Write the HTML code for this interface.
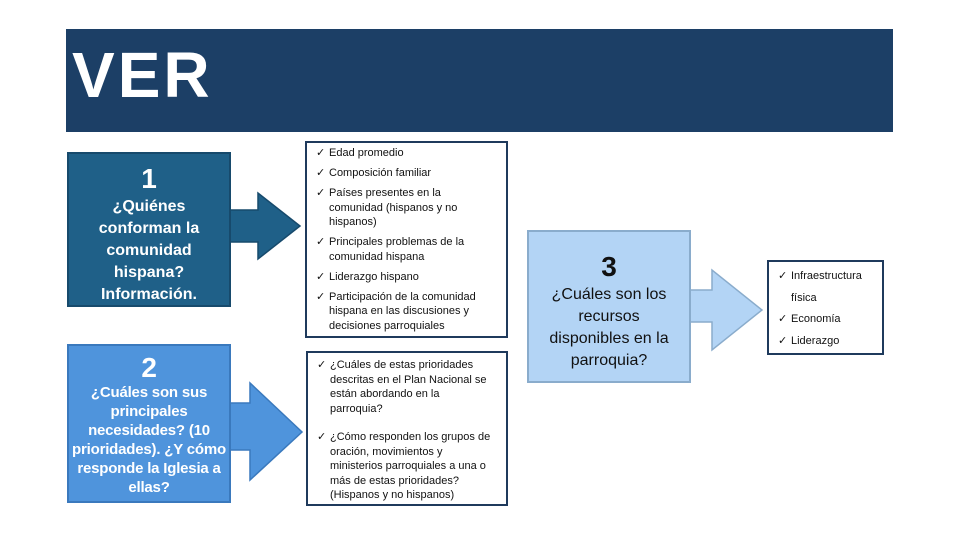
<!DOCTYPE html>
<html><head><meta charset="utf-8"><style>
body{margin:0;width:960px;height:540px;background:#fff;position:relative;overflow:hidden;font-family:"Liberation Sans",sans-serif}
.a{position:absolute}
.hdr{left:66px;top:29px;width:827px;height:103px;background:#1c3f66}
.ver{left:72px;top:38px;color:#fff;font-weight:bold;font-size:64px;letter-spacing:3px}
.box{position:absolute;box-sizing:border-box;text-align:center;font-weight:bold;font-size:16px;line-height:22px;white-space:nowrap;overflow:hidden}
.box .n{font-size:28px;line-height:34px}
.list{position:absolute;box-sizing:border-box;border:2px solid #1f3a5c;background:#fff;font-size:11px;line-height:14.5px;color:#111;padding:3px 4px 0 22px;white-space:nowrap}
.list div{position:relative;margin-bottom:5.5px}
.list div:before{content:"✓";position:absolute;left:-13px;top:0}
</style></head><body>
<div class="a hdr"></div>
<div class="a ver">VER</div>

<svg class="a" style="left:0;top:0" width="960" height="540">
<polygon points="229,210 258,210 258,193 300,226 258,259 258,242 229,242" fill="#1f6088" stroke="#174a6c" stroke-width="1.5"/>
<polygon points="229,403 250,403 250,383 302,432 250,480 250,450 229,450" fill="#4f94dc" stroke="#3a79bd" stroke-width="1.5"/>
<polygon points="688,290 712,290 712,270 762,310 712,350 712,322 688,322" fill="#b3d4f5" stroke="#8aaccc" stroke-width="1.5"/>
</svg>

<div class="box" style="left:67px;top:152px;width:164px;height:155px;background:#1f6088;border:2px solid #174a6c;color:#fff;padding-top:8px">
<div class="n">1</div>¿Quiénes<br>conforman la<br>comunidad<br>hispana?<br>Información.</div>

<div class="box" style="left:67px;top:344px;width:164px;height:159px;background:#4f94dc;border:2px solid #3a79bd;color:#fff;padding-top:7px;font-size:15px;line-height:19px;letter-spacing:-0.2px">
<div class="n" style="line-height:30px">2</div>¿Cuáles son sus<br>principales<br>necesidades? (10<br>prioridades). ¿Y cómo<br>responde la Iglesia a<br>ellas?</div>

<div class="box" style="left:527px;top:230px;width:164px;height:153px;background:#b3d4f5;border:2px solid #8aaccc;color:#111;font-weight:normal;padding-top:18px">
<div class="n" style="font-weight:bold">3</div>¿Cuáles son los<br>recursos<br>disponibles en la<br>parroquia?</div>

<div class="list" style="left:305px;top:141px;width:203px;height:197px">
<div>Edad promedio</div><div>Composición familiar</div><div>Países presentes en la<br>comunidad (hispanos y no<br>hispanos)</div><div>Principales problemas de la<br>comunidad hispana</div><div>Liderazgo hispano</div><div>Participación de la comunidad<br>hispana en las discusiones y<br>decisiones parroquiales</div>
</div>

<div class="list" style="left:306px;top:351px;width:202px;height:155px;padding-top:5px">
<div style="margin-bottom:14px">¿Cuáles de estas prioridades<br>descritas en el Plan Nacional se<br>están abordando en la<br>parroquia?</div><div>¿Cómo responden los grupos de<br>oración, movimientos y<br>ministerios parroquiales a una o<br>más de estas prioridades?<br>(Hispanos y no hispanos)</div>
</div>

<div class="list" style="left:767px;top:260px;width:117px;height:95px;line-height:21.5px;padding-top:4px">
<div style="margin:0">Infraestructura<br>física</div><div style="margin:0">Economía</div><div style="margin:0">Liderazgo</div>
</div>
</body></html>
